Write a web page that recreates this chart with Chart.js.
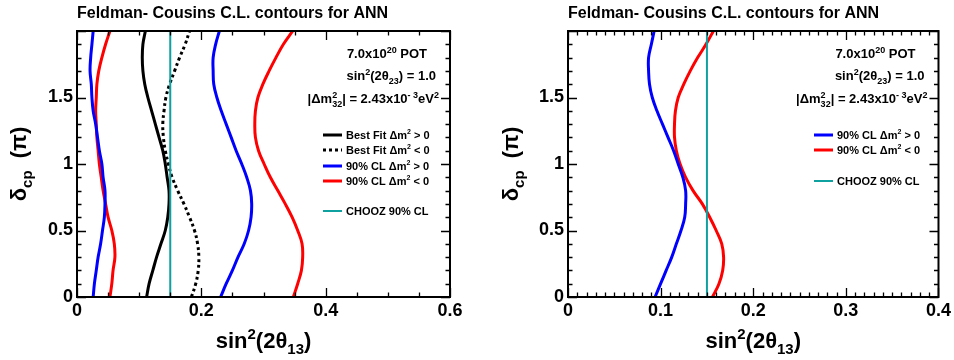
<!DOCTYPE html>
<html>
<head>
<meta charset="utf-8">
<script src="https://cdn.jsdelivr.net/npm/chart.js@4.4.1/dist/chart.umd.min.js"></script>
<style>
  body { margin: 0; background: #fff; width: 954px; height: 360px; overflow: hidden; position: relative; }
  canvas { position: absolute; top: 0; }
  #left { left: 0; }
  #right { left: 477px; }
</style>
</head>
<body>
<canvas id="left" width="477" height="360"></canvas>
<canvas id="right" width="477" height="360"></canvas>
<script>
const deltaCP = [0, 0.1, 0.2, 0.3, 0.4, 0.5, 0.6, 0.7, 0.8, 0.9, 1.0,
                 1.1, 1.2, 1.3, 1.4, 1.5, 1.6, 1.7, 1.8, 1.9, 2.0];

// left panel: sin^2(2theta13) per delta_cp
const bestFitNormal    = [0.112, 0.116, 0.122, 0.128, 0.135, 0.142, 0.146, 0.148, 0.148, 0.145, 0.142,
                          0.138, 0.132, 0.126, 0.120, 0.114, 0.109, 0.106, 0.105, 0.106, 0.110];
const bestFitInverted  = [0.184, 0.191, 0.195, 0.196, 0.194, 0.189, 0.181, 0.172, 0.162, 0.153, 0.147,
                          0.142, 0.139, 0.138, 0.140, 0.143, 0.149, 0.157, 0.165, 0.174, 0.181];
const cl90NormalLow    = [0.026, 0.028, 0.031, 0.034, 0.038, 0.041, 0.044, 0.045, 0.045, 0.042, 0.040,
                          0.036, 0.033, 0.030, 0.026, 0.024, 0.023, 0.021, 0.022, 0.024, 0.026];
const cl90NormalHigh   = [0.231, 0.240, 0.250, 0.259, 0.269, 0.276, 0.280, 0.281, 0.279, 0.273, 0.265,
                          0.256, 0.248, 0.240, 0.232, 0.225, 0.220, 0.219, 0.219, 0.223, 0.229];
const cl90InvertedLow  = [0.053, 0.056, 0.058, 0.061, 0.060, 0.056, 0.050, 0.046, 0.042, 0.039, 0.036,
                          0.034, 0.032, 0.031, 0.030, 0.031, 0.032, 0.035, 0.040, 0.046, 0.053];
const cl90InvertedHigh = [0.348, 0.355, 0.361, 0.363, 0.362, 0.355, 0.346, 0.335, 0.323, 0.311, 0.301,
                          0.292, 0.287, 0.286, 0.287, 0.291, 0.299, 0.309, 0.320, 0.332, 0.347];

// right panel
const cl90NormalR   = [0.094, 0.100, 0.106, 0.112, 0.117, 0.122, 0.126, 0.127, 0.127, 0.124, 0.119,
                       0.114, 0.108, 0.102, 0.096, 0.091, 0.088, 0.087, 0.087, 0.090, 0.093];
const cl90InvertedR = [0.156, 0.163, 0.167, 0.168, 0.166, 0.160, 0.153, 0.145, 0.135, 0.127, 0.121,
                       0.117, 0.115, 0.115, 0.116, 0.119, 0.125, 0.132, 0.140, 0.149, 0.157];

const choozLimit = 0.15;

const xTicksLeft = [0, 0.2, 0.4, 0.6];
const xTicksRight = [0, 0.1, 0.2, 0.3, 0.4];
const yTicks = [0, 0.5, 1, 1.5];

const FONT = '"Liberation Sans", Arial, sans-serif';
const BLUE = '#0000ff', RED = '#ff0000', BLACK = '#000000', CYAN = '#0fa0a0';

const pts = xs => xs.map((x, i) => ({ x: x, y: deltaCP[i] }));
const curve = (label, xs, color, dash) => ({
  label: label, data: pts(xs), showLine: true, borderColor: color, borderWidth: 3,
  borderDash: dash || [], pointRadius: 0, tension: 0.4, fill: false
});
const chooz = () => ({
  label: 'CHOOZ 90% CL', data: [{ x: choozLimit, y: 0 }, { x: choozLimit, y: 2 }],
  showLine: true, borderColor: CYAN, borderWidth: 2, pointRadius: 0, tension: 0
});

// draws text made of pieces: [text] normal, [text,'sup'], [text,'sub'], [sup,'both',sub]
function rich(ctx, x, y, parts, size, align) {
  const big = 'bold ' + size + 'px ' + FONT;
  const small = 'bold ' + Math.round(size * 0.68) + 'px ' + FONT;
  const w = [];
  parts.forEach(p => {
    if (!p[1]) { ctx.font = big; w.push(ctx.measureText(p[0]).width); }
    else if (p[1] === 'both') { ctx.font = small; w.push(Math.max(ctx.measureText(p[0]).width, ctx.measureText(p[2]).width)); }
    else { ctx.font = small; w.push(ctx.measureText(p[0]).width); }
  });
  const total = w.reduce((a, b) => a + b, 0);
  let cx = align === 'right' ? x - total : align === 'center' ? x - total / 2 : x;
  ctx.textAlign = 'left';
  ctx.textBaseline = 'alphabetic';
  parts.forEach((p, i) => {
    if (!p[1]) { ctx.font = big; ctx.fillText(p[0], cx, y); }
    else if (p[1] === 'sup') { ctx.font = small; ctx.fillText(p[0], cx, y - size * 0.42); }
    else if (p[1] === 'sub') { ctx.font = small; ctx.fillText(p[0], cx, y + size * 0.28); }
    else { ctx.font = small; ctx.fillText(p[0], cx, y - size * 0.42); ctx.fillText(p[2], cx, y + size * 0.3); }
    cx += w[i];
  });
}

const rootStyle = {
  id: 'rootStyle',
  afterDatasetsDraw(chart, args, o) {
    const { ctx, chartArea: a, scales: { x, y } } = chart;
    ctx.save();
    ctx.fillStyle = '#000';
    ctx.strokeStyle = '#000';

    // inward ticks on all four sides
    ctx.lineWidth = 1.3;
    ctx.beginPath();
    const nx = Math.round(x.max / o.xMinor);
    for (let i = 0; i <= nx; i++) {
      const v = i * o.xMinor;
      const major = Math.abs(v / o.xMajor - Math.round(v / o.xMajor)) < 1e-6;
      const len = major ? 9 : 4.5;
      const px = Math.round(x.getPixelForValue(v)) + 0.5;
      ctx.moveTo(px, a.bottom); ctx.lineTo(px, a.bottom - len);
      ctx.moveTo(px, a.top); ctx.lineTo(px, a.top + len);
    }
    for (let i = 0; i <= 20; i++) {
      const v = i * 0.1;
      const len = i % 5 === 0 ? 9 : 4.5;
      const py = Math.round(y.getPixelForValue(v)) + 0.5;
      ctx.moveTo(a.left, py); ctx.lineTo(a.left + len, py);
      ctx.moveTo(a.right, py); ctx.lineTo(a.right - len, py);
    }
    ctx.stroke();

    // frame
    ctx.lineWidth = 2;
    ctx.strokeRect(a.left, a.top, a.right - a.left, a.bottom - a.top);

    // title
    ctx.font = 'bold 16px ' + FONT;
    ctx.textAlign = 'left';
    ctx.textBaseline = 'alphabetic';
    ctx.fillText('Feldman- Cousins C.L. contours for ANN', a.left, 18);

    // axis titles
    rich(ctx, (a.left + a.right) / 2, 348, [['sin'], ['2', 'sup'], ['(2θ'], ['13', 'sub'], [')']], 22, 'center');
    ctx.save();
    ctx.translate(o.yTitleX, (a.top + a.bottom) / 2);
    ctx.rotate(-Math.PI / 2);
    rich(ctx, 0, 0, [['δ'], ['cp', 'sub'], ['  (π)']], 22, 'center');
    ctx.restore();

    // run conditions
    const r = a.right;
    rich(ctx, r - 23, 58, [['7.0x10'], ['20', 'sup'], [' POT']], 13, 'right');
    rich(ctx, r - 14, 80, [['sin'], ['2', 'sup'], ['(2θ'], ['23', 'sub'], [') = 1.0']], 13, 'right');
    rich(ctx, r - 11, 103, [['|Δm'], ['2', 'both', '32'], ['| = 2.43x10'], ['- 3', 'sup'], ['eV'], ['2', 'sup']], 13, 'right');

    // legend
    o.legend.forEach(e => {
      const ds = chart.data.datasets[e.ds];
      ctx.save();
      ctx.strokeStyle = ds.borderColor;
      ctx.lineWidth = ds.borderWidth;
      ctx.setLineDash(ds.borderDash || []);
      ctx.beginPath();
      ctx.moveTo(o.legendX, e.y); ctx.lineTo(o.legendX + 19, e.y);
      ctx.stroke();
      ctx.restore();
      rich(ctx, o.legendX + 23, e.y + 4, e.text, 11, 'left');
    });
    ctx.restore();
  }
};

function panel(id, xMax, xTicks, xMajor, xMinor, yWidth, rightPad, datasets, opts) {
  const tickFont = { family: FONT, size: 18, weight: 'bold' };
  return new Chart(document.getElementById(id), {
    type: 'scatter',
    data: { datasets: datasets },
    options: {
      responsive: false,
      animation: false,
      layout: { padding: { left: 0, right: rightPad, top: 31, bottom: 0 } },
      scales: {
        x: {
          type: 'linear', min: 0, max: xMax,
          border: { display: false },
          grid: { display: false, drawTicks: false },
          ticks: { font: tickFont, color: '#000', padding: 3, maxRotation: 0, autoSkip: false, callback: v => String(v) },
          afterBuildTicks: s => { s.ticks = xTicks.map(v => ({ value: v })); },
          afterFit: s => { s.height = 63; }
        },
        y: {
          type: 'linear', min: 0, max: 2,
          border: { display: false },
          grid: { display: false, drawTicks: false },
          ticks: { font: tickFont, color: '#000', padding: 4, autoSkip: false, callback: v => String(v) },
          afterBuildTicks: s => { s.ticks = yTicks.map(v => ({ value: v })); },
          afterFit: s => { s.width = yWidth; }
        }
      },
      plugins: {
        legend: { display: false },
        tooltip: { enabled: false },
        rootStyle: Object.assign({ xMajor: xMajor, xMinor: xMinor }, opts)
      }
    },
    plugins: [rootStyle]
  });
}

const dm2gt = [['Δm'], ['2', 'sup'], [' > 0']];
const dm2lt = [['Δm'], ['2', 'sup'], [' < 0']];

panel('left', 0.6, xTicksLeft, 0.2, 0.05, 77, 27, [
  chooz(),
  curve('Best Fit Δm² > 0', bestFitNormal, BLACK),
  curve('Best Fit Δm² < 0', bestFitInverted, BLACK, [3, 3]),
  curve('90% CL Δm² > 0', cl90NormalLow, BLUE),
  curve('90% CL Δm² > 0', cl90NormalHigh, BLUE),
  curve('90% CL Δm² < 0', cl90InvertedLow, RED),
  curve('90% CL Δm² < 0', cl90InvertedHigh, RED)
], {
  yTitleX: 26, legendX: 323,
  legend: [
    { ds: 1, y: 135, text: [['Best Fit ']].concat(dm2gt) },
    { ds: 2, y: 150, text: [['Best Fit ']].concat(dm2lt) },
    { ds: 3, y: 166, text: [['90% CL ']].concat(dm2gt) },
    { ds: 5, y: 181, text: [['90% CL ']].concat(dm2lt) },
    { ds: 0, y: 211, text: [['CHOOZ 90% CL']] }
  ]
});

panel('right', 0.4, xTicksRight, 0.1, 0.01, 91, 14, [
  chooz(),
  curve('90% CL Δm² > 0', cl90NormalR, BLUE),
  curve('90% CL Δm² < 0', cl90InvertedR, RED)
], {
  yTitleX: 41, legendX: 337,
  legend: [
    { ds: 1, y: 135, text: [['90% CL ']].concat(dm2gt) },
    { ds: 2, y: 150, text: [['90% CL ']].concat(dm2lt) },
    { ds: 0, y: 181, text: [['CHOOZ 90% CL']] }
  ]
});
</script>
</body>
</html>
